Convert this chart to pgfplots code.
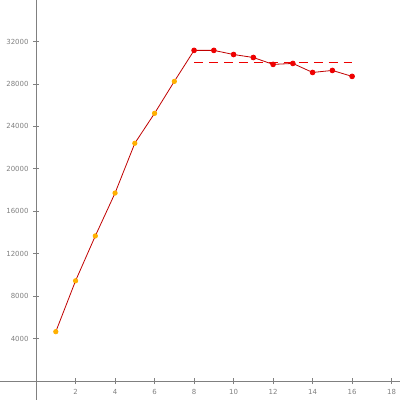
\documentclass[border=0pt]{standalone}
\usepackage{pgfplots}
\pgfplotsset{compat=1.18}
\usepackage{fontspec}
\setmainfont{DejaVu Sans}
\definecolor{lred}{HTML}{C00000}
\definecolor{mred}{HTML}{EE0000}
\definecolor{morange}{HTML}{FFB000}
\definecolor{axgray}{HTML}{808080}
\begin{document}
\begin{tikzpicture}
\begin{axis}[
  scale only axis, width=400pt, height=400pt,
  axis lines=middle, axis line style={-, axgray, line width=1pt},
  xmin=-1.8, xmax=18.4, ymin=-1730, ymax=35860,
  xtick={2,4,...,18}, ytick={4000,8000,...,32000},
  scaled ticks=false,
  tick style={axgray, line width=0.8pt},
  major tick length=6pt,
  tick align=center,
  /pgf/number format/assume math mode=true,
  /pgf/number format/1000 sep={},
  tick label style={font=\fontsize{7}{8}\selectfont, text=axgray},
  xticklabel style={yshift=-2pt},
  yticklabel style={xshift=-1pt},
  clip=false,
]
\addplot[lred, line width=0.8pt, mark=*, mark options={morange, draw=morange, scale=1.1}, mark indices={1,...,7}] coordinates {
(1,4660) (2,9450) (3,13680) (4,17720) (5,22410) (6,25230) (7,28240) (8,31160)
};
\addplot[lred, line width=0.8pt, mark=*, mark options={mred, draw=mred, scale=1.2}] coordinates {
(8,31160) (9,31160) (10,30770) (11,30490) (12,29840) (13,29930) (14,29080) (15,29270) (16,28710)
};
\addplot[mred, line width=1pt, dash pattern=on 9pt off 6pt] coordinates {(8,30030) (16,30030)};
\end{axis}
\end{tikzpicture}
\end{document}
